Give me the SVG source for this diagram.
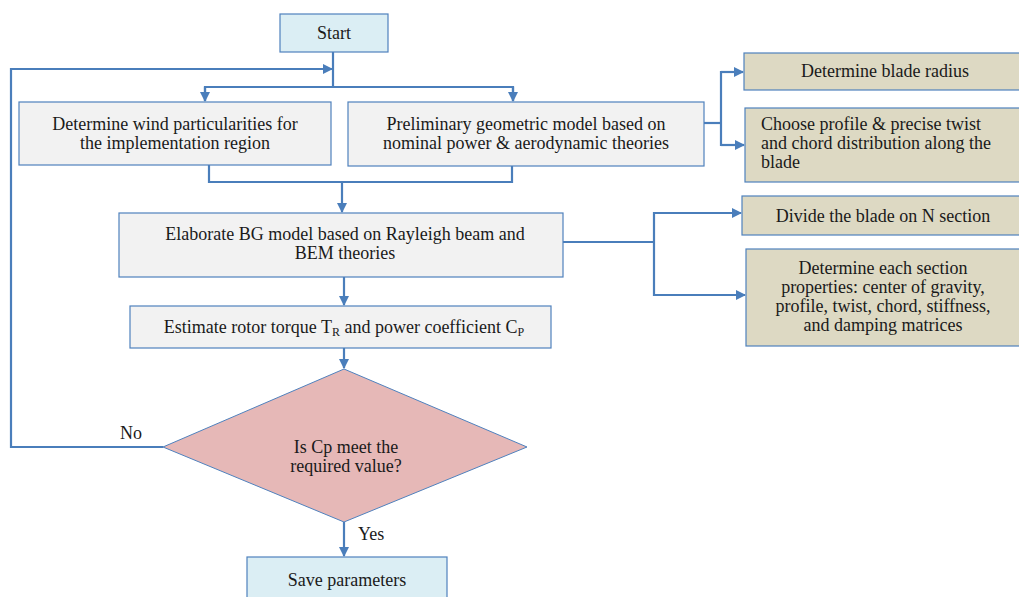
<svg xmlns="http://www.w3.org/2000/svg" width="1019" height="597" viewBox="0 0 1019 597">
<style>
text{font-family:'Liberation Serif','DejaVu Serif',serif;font-size:18px;fill:#1a1a1a}
.c{text-anchor:middle}
.gray{fill:#f2f2f2;stroke:#4f81bd;stroke-width:1.2}
.blue{fill:#dbeef4;stroke:#4f81bd;stroke-width:1.2}
.tan{fill:#ddd9c3;stroke:#4f81bd;stroke-width:1.2}
.dia{fill:#e6b8b7;stroke:#4f81bd;stroke-width:1}
.ln{fill:none;stroke:#4a7ebb;stroke-width:2.2}
.sub{font-size:12px}
</style>
<defs>
<marker id="ah" markerWidth="10" markerHeight="10" refX="9" refY="5" orient="auto" markerUnits="userSpaceOnUse">
<path d="M0,0 L10,5 L0,10 Z" fill="#4a7ebb"/>
</marker>
</defs>
<rect width="1019" height="597" fill="#ffffff"/>
<g id="connectors">
<line class="ln" x1="333" y1="52" x2="333" y2="87"/>
<polyline class="ln" points="163,447 11,447 11,69 332,69" marker-end="url(#ah)"/>
<polyline class="ln" points="205,101 205,87 513,87 513,101" />
<line class="ln" x1="205" y1="87" x2="205" y2="101" marker-end="url(#ah)"/>
<line class="ln" x1="513" y1="87" x2="513" y2="101" marker-end="url(#ah)"/>
<polyline class="ln" points="209,165 209,182 512,182 512,166"/>
<line class="ln" x1="342" y1="182" x2="342" y2="212" marker-end="url(#ah)"/>
<polyline class="ln" points="704,123 721,123"/>
<polyline class="ln" points="743,72 721,72 721,145 743,145"/>
<line class="ln" x1="721" y1="72" x2="743" y2="72" marker-end="url(#ah)"/>
<line class="ln" x1="721" y1="145" x2="744" y2="145" marker-end="url(#ah)"/>
<line class="ln" x1="563" y1="242" x2="654" y2="242"/>
<polyline class="ln" points="741,213 654,213 654,295 745,295"/>
<line class="ln" x1="654" y1="213" x2="741" y2="213" marker-end="url(#ah)"/>
<line class="ln" x1="654" y1="295" x2="745" y2="295" marker-end="url(#ah)"/>
<line class="ln" x1="344" y1="277" x2="344" y2="305" marker-end="url(#ah)"/>
<line class="ln" x1="344" y1="348" x2="344" y2="368" marker-end="url(#ah)"/>
<line class="ln" x1="344" y1="522" x2="344" y2="556" marker-end="url(#ah)"/>
<text x="120" y="439">No</text>
<text x="358" y="540">Yes</text>
</g>
<g id="start">
<rect class="blue" x="280" y="14" width="108" height="38"/>
<text class="c" x="334" y="39">Start</text>
</g>
<g id="wind">
<rect class="gray" x="19" y="102" width="312" height="63"/>
<text class="c" x="175" y="130">Determine wind particularities for</text>
<text class="c" x="175" y="149">the implementation region</text>
</g>
<g id="preliminary">
<rect class="gray" x="348" y="102" width="356" height="64"/>
<text class="c" x="526" y="130">Preliminary geometric model based on</text>
<text class="c" x="526" y="149">nominal power &amp; aerodynamic theories</text>
</g>
<g id="radius">
<rect class="tan" x="744" y="53" width="280" height="37"/>
<text class="c" x="885" y="77">Determine blade radius</text>
</g>
<g id="profile">
<rect class="tan" x="745" y="108" width="280" height="74"/>
<text x="761" y="130">Choose profile &amp; precise twist</text>
<text x="761" y="149">and chord distribution along the</text>
<text x="761" y="168">blade</text>
</g>
<g id="elaborate">
<rect class="gray" x="119" y="213" width="444" height="64"/>
<text class="c" x="345" y="240">Elaborate BG model based on Rayleigh beam and</text>
<text class="c" x="345" y="259">BEM theories</text>
</g>
<g id="divide">
<rect class="tan" x="742" y="196" width="282" height="39"/>
<text class="c" x="883" y="222">Divide the blade on N section</text>
</g>
<g id="sections">
<rect class="tan" x="746" y="249" width="278" height="97"/>
<text class="c" x="883" y="274">Determine each section</text>
<text class="c" x="883" y="293">properties: center of gravity,</text>
<text class="c" x="883" y="312">profile, twist, chord, stiffness,</text>
<text class="c" x="883" y="331">and damping matrices</text>
</g>
<g id="estimate">
<rect class="gray" x="130" y="306" width="421" height="42"/>
<text class="c" x="344" y="333">Estimate rotor torque T<tspan class="sub" dy="3">R</tspan><tspan dy="-3"> and power coefficient C</tspan><tspan class="sub" dy="3">P</tspan></text>
</g>
<g id="decision">
<polygon class="dia" points="344,369 527,447 344,522 163,447"/>
<text class="c" x="346" y="453">Is Cp meet the</text>
<text class="c" x="346" y="472">required value?</text>
</g>
<g id="save">
<rect class="blue" x="247" y="557" width="200" height="42"/>
<text class="c" x="347" y="586">Save parameters</text>
</g>
</svg>
